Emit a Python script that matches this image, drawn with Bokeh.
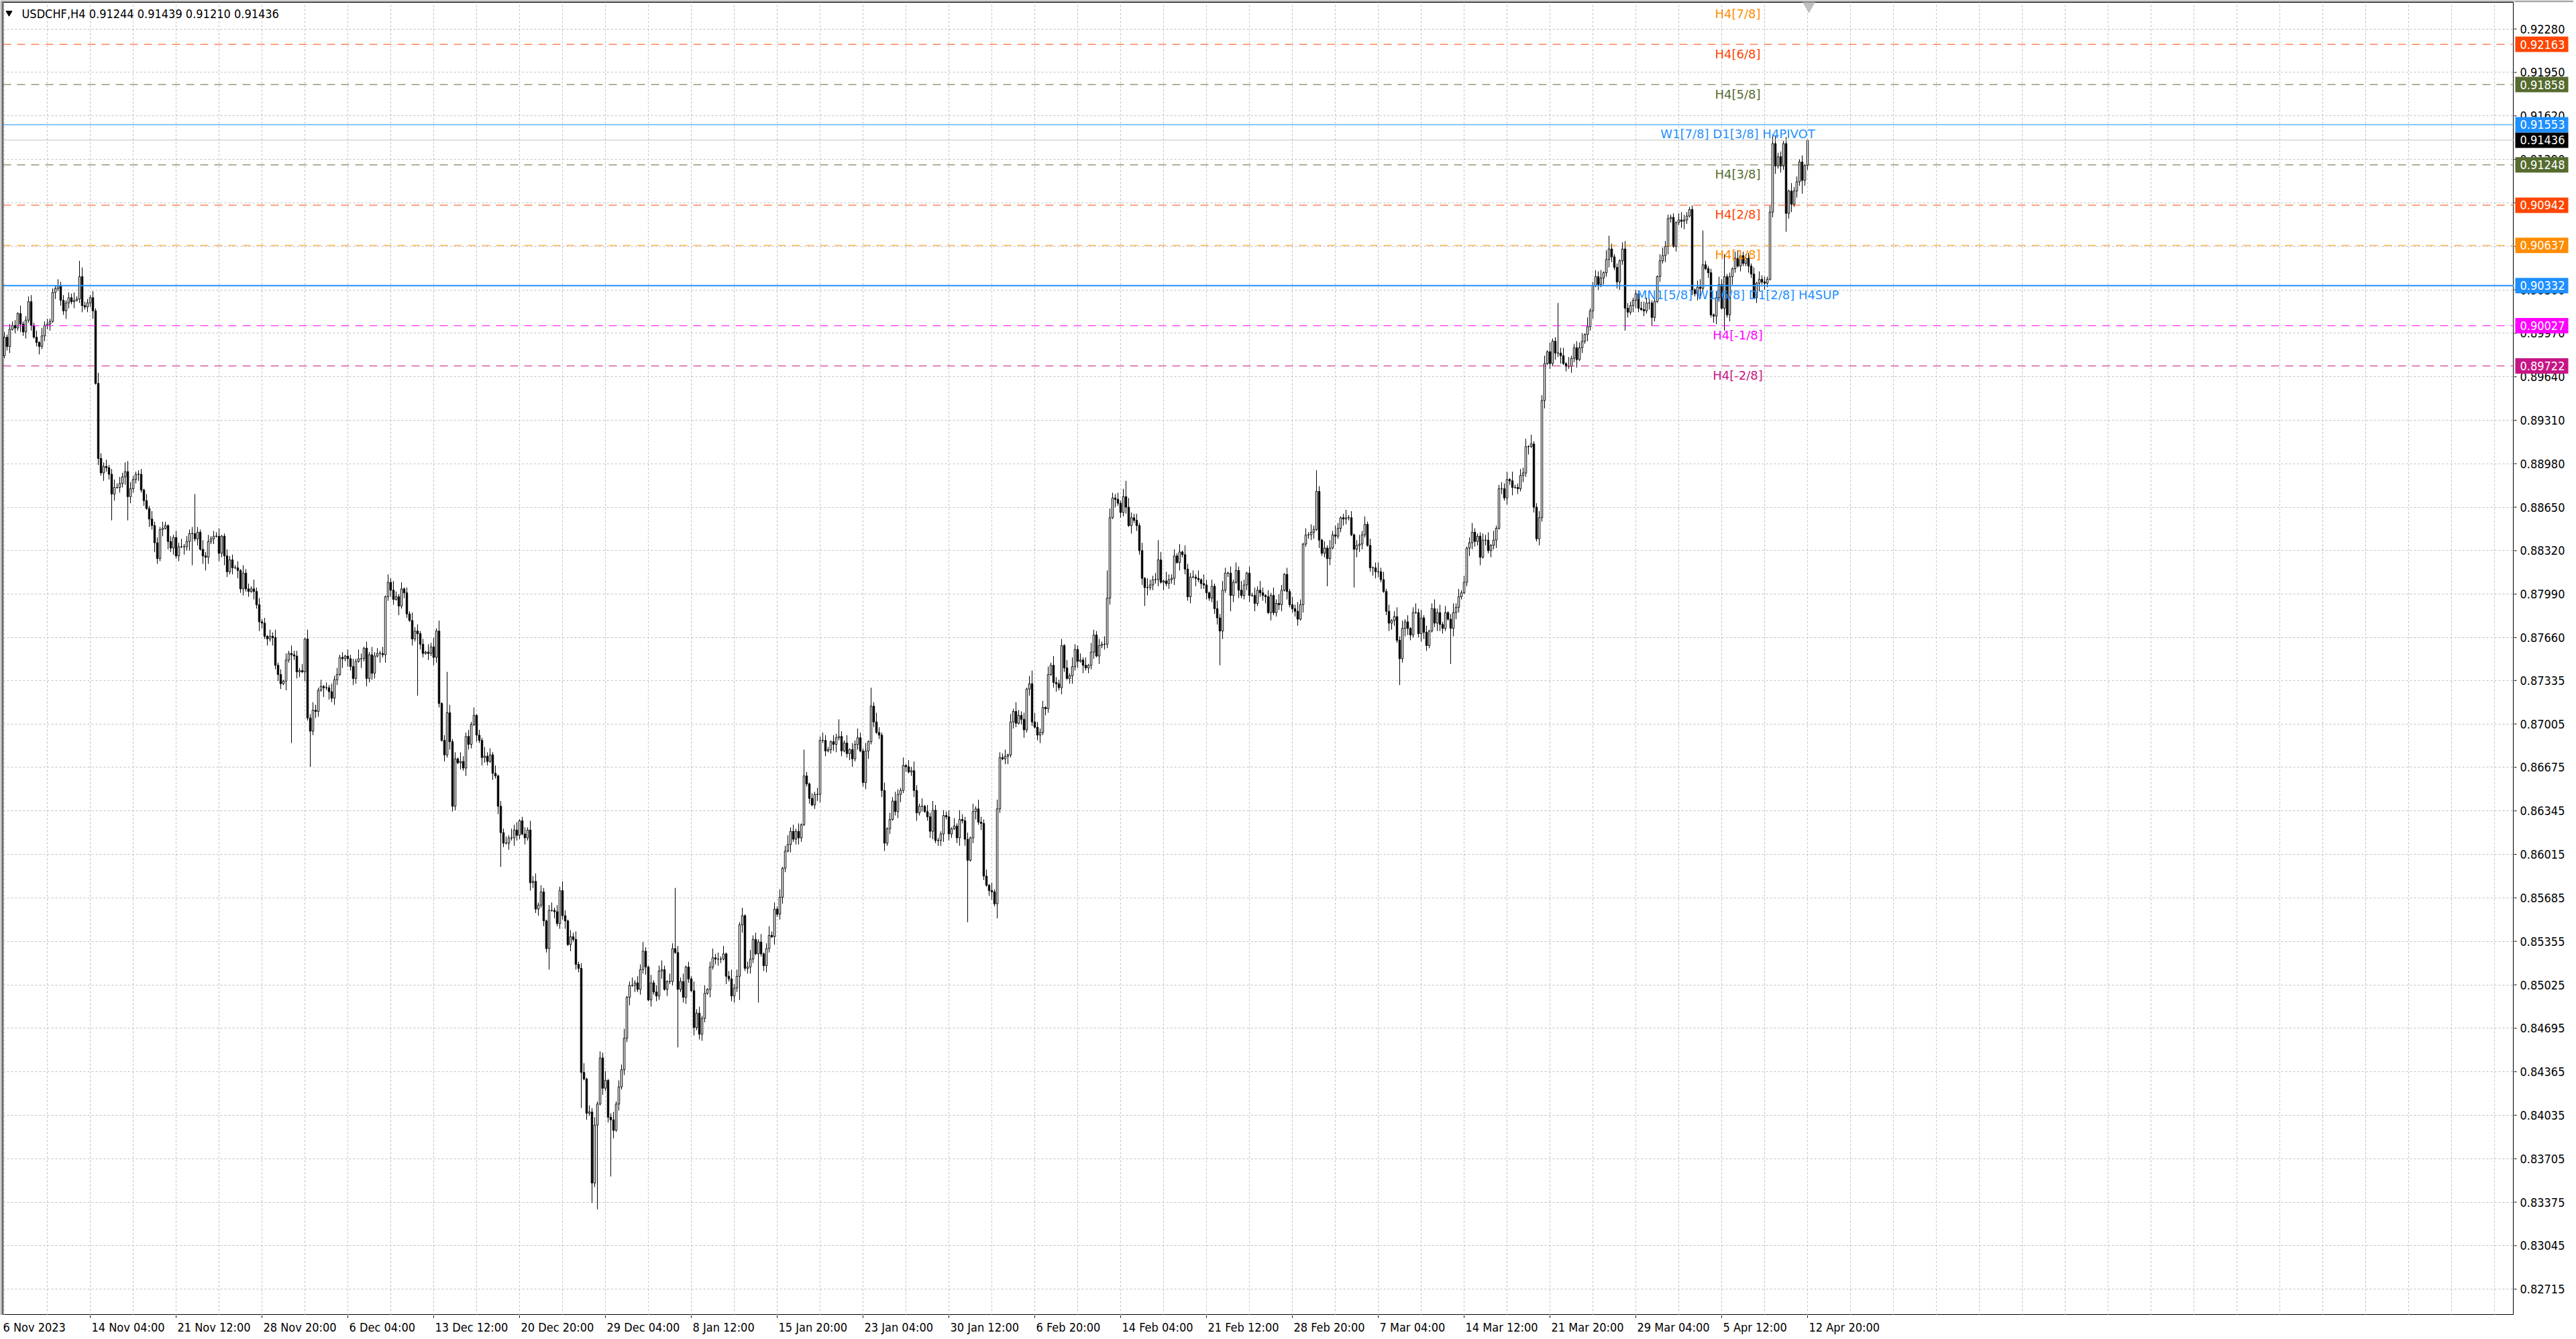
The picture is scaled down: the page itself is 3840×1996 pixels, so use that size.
import numpy as np
from bokeh.plotting import figure
from bokeh.layouts import column, row
from bokeh.models import FixedTicker, Span, Label, ColumnDataSource, Range1d
from bokeh.core.properties import value
from bokeh.embed import file_html
from bokeh.resources import INLINE

# ---------------- data ----------------
FIRST_BAR = 4          # bar index of first close below (bar 0 = 6 Nov 2023 00:00, H4)
FIRST_OPEN = 8978      # pips
CLOSE_PIPS = [
    # 4-40
    8980, 8994, 8987, 9000, 9003, 9001, 9012, 9004, 8998, 9007,
    9021, 9003, 8994, 8990, 8987, 8995, 9003, 9004, 9006, 9028,
    9031, 9033, 9022, 9014, 9020, 9024, 9021, 9022, 9023, 9040,
    9018, 9017, 9020, 9024, 9014, 8959, 8902,
    # 41-87
    8891, 8896, 8895, 8890, 8875, 8880, 8880, 8883, 8888, 8892,
    8873, 8879, 8886, 8890, 8890, 8878, 8870, 8864, 8856, 8851,
    8838, 8826, 8848, 8849, 8851, 8839, 8834, 8842, 8828, 8835,
    8835, 8835, 8839, 8845, 8845, 8841, 8846, 8833, 8828, 8827,
    8839, 8841, 8843, 8843, 8830, 8843, 8828,
    # 88-153
    8816, 8825, 8819, 8819, 8817, 8803, 8815, 8803, 8801, 8803,
    8801, 8791, 8778, 8777, 8767, 8765, 8767, 8766, 8745, 8738,
    8731, 8733, 8749, 8754, 8753, 8752, 8740, 8741, 8740, 8765,
    8705, 8695, 8711, 8710, 8726, 8729, 8728, 8728, 8725, 8720,
    8734, 8738, 8751, 8750, 8752, 8750, 8744, 8735, 8748, 8750,
    8750, 8758, 8735, 8753, 8739, 8752, 8754, 8754, 8753, 8797,
    8808, 8802, 8795, 8797, 8790, 8803,
    # 154-303
    8800, 8784, 8779, 8765, 8771, 8769, 8761, 8754, 8755, 8754,
    8759, 8751, 8771, 8716, 8688, 8677, 8709, 8687, 8638, 8674,
    8671, 8672, 8667, 8691, 8685, 8700, 8707, 8692, 8688, 8675,
    8676, 8672, 8677, 8663, 8661, 8638, 8618, 8610, 8610, 8614,
    8614, 8620, 8616, 8627, 8617, 8614, 8620, 8580, 8581, 8560,
    8563, 8573, 8551, 8530, 8559, 8559, 8558, 8549, 8574, 8555,
    8551, 8533, 8539, 8537, 8518, 8515, 8436, 8431, 8405, 8406,
    8352, 8396, 8412, 8447, 8424, 8430, 8402, 8400, 8392, 8412,
    8425, 8438, 8462, 8493, 8502, 8502, 8504, 8499, 8514, 8528,
    8516, 8491, 8504, 8497, 8494, 8513, 8514, 8499, 8505, 8505,
    8530, 8527, 8499, 8505, 8493, 8516, 8507, 8498, 8470, 8481,
    8465, 8477, 8496, 8499, 8516, 8523, 8522, 8522, 8522, 8526,
    8509, 8507, 8494, 8500, 8509, 8548, 8555, 8515, 8516, 8522,
    8537, 8526, 8535, 8526, 8517, 8530, 8540, 8539, 8560, 8556,
    8569, 8591, 8604, 8609, 8619, 8613, 8619, 8614, 8624, 8661,
    # 304-486
    8655, 8644, 8639, 8647, 8647, 8688, 8688, 8680, 8681, 8687,
    8685, 8690, 8691, 8680, 8686, 8678, 8681, 8674, 8685, 8690,
    8680, 8656, 8680, 8687, 8714, 8702, 8694, 8692, 8650, 8610,
    8621, 8628, 8642, 8634, 8647, 8650, 8669, 8668, 8664, 8665,
    8650, 8633, 8638, 8638, 8634, 8630, 8619, 8635, 8612, 8612,
    8617, 8631, 8630, 8617, 8621, 8623, 8614, 8628, 8627, 8613,
    8597, 8614, 8634, 8636, 8626, 8625, 8585, 8578, 8574, 8573,
    8564, 8636, 8675, 8674, 8676, 8677, 8702, 8710, 8701, 8707,
    8704, 8696, 8727, 8731, 8702, 8698, 8692, 8694, 8713, 8712,
    8738, 8745, 8732, 8731, 8728, 8760, 8743, 8735, 8737, 8744,
    8757, 8748, 8749, 8745, 8743, 8745, 8755, 8768, 8752, 8760,
    8761, 8761, 8796, 8857, 8872, 8871, 8868, 8861, 8873, 8865,
    8851, 8857, 8855, 8851, 8832, 8811, 8804, 8804, 8806, 8810,
    8810, 8825, 8808, 8809, 8807, 8810, 8811, 8828, 8823, 8831,
    8829, 8818, 8797, 8812, 8812, 8811, 8810, 8807, 8806, 8800,
    8796, 8805, 8788, 8781, 8771, 8802, 8815, 8815, 8798, 8808,
    8817, 8802, 8798, 8806, 8815, 8798, 8798, 8792, 8802, 8800,
    8798, 8797, 8785, 8798, 8785, 8792, 8791, 8802, 8814, 8801,
    8791, 8788, 8786,
    # 487-677
    8780, 8791, 8837, 8844, 8844, 8846, 8848, 8877, 8840, 8830,
    8834, 8826, 8834, 8844, 8843, 8849, 8857, 8856, 8857, 8857,
    8844, 8833, 8836, 8837, 8844, 8852, 8836, 8819, 8819, 8816,
    8816, 8810, 8801, 8786, 8777, 8779, 8782, 8764, 8750, 8773,
    8778, 8773, 8768, 8785, 8785, 8769, 8781, 8770, 8760, 8771,
    8788, 8777, 8785, 8776, 8773, 8785, 8780, 8773, 8785, 8789,
    8797, 8800, 8808, 8834, 8838, 8846, 8839, 8843, 8827, 8840,
    8840, 8832, 8836, 8840, 8849, 8879, 8879, 8872, 8886, 8885,
    8880, 8880, 8879, 8889, 8891, 8911, 8911, 8913, 8865, 8841,
    8857, 8946, 8974, 8983, 8974, 8991, 8982, 8982, 8980, 8974,
    8972, 8972, 8978, 8986, 8977, 8986, 8991, 8996, 9002, 9014,
    9033, 9040, 9034, 9039, 9043, 9053, 9061, 9055, 9047, 9036,
    9052, 9061, 9016, 9013, 9018, 9022, 9027, 9016, 9015, 9014,
    9020, 9020, 9009, 9021, 9040, 9052, 9056, 9063, 9084, 9085,
    9063, 9081, 9083, 9082, 9083, 9086, 9091, 9030, 9027, 9032,
    9031, 9049, 9046, 9043, 9011, 9010, 9024, 9034, 9016, 9040,
    9011, 9040, 9046, 9054, 9048, 9056, 9050, 9054, 9048, 9042,
    9024, 9035, 9038, 9036, 9035, 9038, 9089, 9141, 9124, 9131,
    9124, 9141, 9088, 9105, 9095, 9105, 9112, 9127, 9113, 9124.4,
    9143.6,
]
# wick lengths in pips (one character per bar)
UP_WICK = (
    "34243416234525163423253424362473325284352463537453"
    "23415263425314253624351427352436125342516342735241"
    "53624152634251736425142635241536274152634251637425"
    "14263524163725143625174352614273526143527461352746"
    "25314625374153624715362547136254713625473162547316"
    "42536142735261473526147352614735261473526147352614"
    "31425364215374261537426153742615374261537426153742"
    "24351627435162743516274351627435162743516274351627"
    "43526174352617435261743526174352617435261743526174"
    "15263741526374152637415263741526374152637415263741"
    "36251473625147362514736251473625147362514736251473"
    "23546172354617235461723546172354617235461723546172"
    "42315643231564323156432315643231564323156432315643"
    "34251634251634251634251634251634251634251634251634"
)
DN_WICK = (
    "42351426352413624351524364251352436152634251436253"
    "35241637425163524163742516352416374251635241637425"
    "26354172635417263541726354172635417263541726354172"
    "43152643152643152643152643152643152643152643152643"
    "52436152436152436152436152436152436152436152436152"
    "31624531624531624531624531624531624531624531624531"
    "24135624135624135624135624135624135624135624135624"
    "46253146253146253146253146253146253146253146253146"
    "35162435162435162435162435162435162435162435162435"
    "23451623451623451623451623451623451623451623451623"
    "54213654213654213654213654213654213654213654213654"
    "36142536142536142536142536142536142536142536142536"
    "42563142563142563142563142563142563142563142563142"
    "25314625314625314625314625314625314625314625314625"
)
UP_BIG = {33: 12, 51: 8, 76: 30, 167: 8, 170: 31, 255: 46, 303: 20, 316: 13,
          328: 14, 388: 10, 416: 21, 423: 12, 435: 15, 494: 16, 584: 38,
          603: 10, 638: 26, 646: 17, 664: 7}
DN_BIG = {45: 20, 51: 18, 75: 24, 80: 10, 112: 67, 119: 27, 159: 47, 190: 26,
          208: 16, 220: 27, 224: 15, 226: 64, 231: 43, 256: 44, 279: 18,
          286: 37, 364: 47, 375: 11, 430: 14, 458: 26, 462: 12, 498: 21,
          508: 29, 525: 20, 544: 27, 609: 17, 646: 17, 669: 14, 675: 10}
LAST_OHLC = (0.91244, 0.91439, 0.91210, 0.91436)

Y_TICKS = [0.92280, 0.91950, 0.91620, 0.91290, 0.90960, 0.90630, 0.90300, 0.89970,
           0.89640, 0.89310, 0.88980, 0.88650, 0.88320, 0.87990, 0.87660, 0.87335,
           0.87005, 0.86675, 0.86345, 0.86015, 0.85685, 0.85355, 0.85025, 0.84695,
           0.84365, 0.84035, 0.83705, 0.83375, 0.83045, 0.82715]
X_TICK_FIRST = 37       # bar index of "14 Nov 04:00"
X_TICK_STEP = 32
X_LABELS = ["14 Nov 04:00", "21 Nov 12:00", "28 Nov 20:00", "6 Dec 04:00", "13 Dec 12:00",
            "20 Dec 20:00", "29 Dec 04:00", "8 Jan 12:00", "15 Jan 20:00", "23 Jan 04:00",
            "30 Jan 12:00", "6 Feb 20:00", "14 Feb 04:00", "21 Feb 12:00", "28 Feb 20:00",
            "7 Mar 04:00", "14 Mar 12:00", "21 Mar 20:00", "29 Mar 04:00", "5 Apr 12:00",
            "12 Apr 20:00"]
FIRST_LABEL = "6 Nov 2023"
TITLE = "USDCHF,H4  0.91244 0.91439 0.91210 0.91436"

LEVEL_PRICES = [0.92468, 0.92163, 0.91858, 0.91553, 0.91248, 0.90942, 0.90637, 0.90332, 0.90027, 0.89722]
LEVEL_NAMES = ["H4[7/8]", "H4[6/8]", "H4[5/8]", "W1[7/8] D1[3/8] H4PIVOT", "H4[3/8]", "H4[2/8]",
               "H4[1/8]", "MN1[5/8] W1[6/8] D1[2/8] H4SUP", "H4[-1/8]", "H4[-2/8]"]
LEVEL_COLORS = ["#FF8C00", "#FF4500", "#556B2F", "#1E90FF", "#556B2F", "#FF4500",
                "#FF8C00", "#1E90FF", "#FF00FF", "#C71585"]
# "none": the line sits on the top border of the chart and is not visible
LEVEL_STYLE = ["none", "dash", "dash", "solid1", "dash", "dash", "dash", "solid2", "dash", "dash"]
BID_PRICE = 0.91436
TAG_PRICES = [0.91436, 0.92163, 0.91858, 0.91553, 0.91248, 0.90942, 0.90637, 0.90332, 0.90027, 0.89722]
TAG_COLORS = ["#000000", "#FF4500", "#556B2F", "#1E90FF", "#556B2F", "#FF4500",
              "#FF8C00", "#1E90FF", "#FF00FF", "#C71585"]

# ---------------- geometry (page px: x = 4*bar - 14) ----------------
PX_PER_UNIT = 19640.0
X0, X1 = 4.5, 940.25
Y0, Y1 = 0.825174, 0.924818
BORDER_L, BORDER_T = 4, 3
MAIN_W, MAIN_H = 3747, 1960
SIDE_W, BOT_H = 89, 32
AX_FONT = "DejaVu Sans Condensed"
EDGE = "#a8a8a8"

n = len(CLOSE_PIPS)
idx = np.arange(FIRST_BAR, FIRST_BAR + n)
close = np.array(CLOSE_PIPS, dtype=float) / 10000.0
opn = np.concatenate([[FIRST_OPEN / 10000.0], close[:-1]])
upw = UP_WICK.ljust(n, "2")[:n]
dnw = DN_WICK.ljust(n, "2")[:n]
up = np.array([int(c, 36) for c in upw], dtype=float)
dn = np.array([int(c, 36) for c in dnw], dtype=float)
for k, v in UP_BIG.items():
    if FIRST_BAR <= k < FIRST_BAR + n:
        up[k - FIRST_BAR] = v
for k, v in DN_BIG.items():
    if FIRST_BAR <= k < FIRST_BAR + n:
        dn[k - FIRST_BAR] = v
top = np.maximum(opn, close)
bot = np.minimum(opn, close)
high = top + up / 10000.0
low = bot - dn / 10000.0
opn[-1], high[-1], low[-1], close[-1] = LAST_OHLC
top[-1], bot[-1] = max(opn[-1], close[-1]), min(opn[-1], close[-1])
bull = close >= opn
src = ColumnDataSource(dict(x=idx, high=high, low=low, top=top, bot=bot,
                            fill=np.where(bull, "white", "black").tolist()))

xr = Range1d(X0, X1)
yr = Range1d(Y0, Y1)

# ---------------- main chart ----------------
p = figure(width=MAIN_W, height=MAIN_H, x_range=xr, y_range=yr, output_backend="svg",
           toolbar_location=None, x_axis_location=None, y_axis_location=None, title=None,
           min_border_left=BORDER_L, min_border_top=BORDER_T, min_border_right=0,
           min_border_bottom=0)
p.background_fill_color = "white"
p.border_fill_color = EDGE
p.outline_line_color = "black"
p.outline_line_width = 1
p.xgrid.ticker = FixedTicker(ticks=list(range(5, 941, 16)))
p.ygrid.ticker = FixedTicker(ticks=Y_TICKS)
for g in (p.xgrid, p.ygrid):
    g.grid_line_color = "#c0c0c0"
    g.grid_line_dash = "3 3"
    g.grid_line_width = 1

p.segment(x0="x", y0="low", x1="x", y1="high", source=src, line_color="black", line_width=1)
p.vbar(x="x", width=0.62, top="top", bottom="bot", source=src, fill_color="fill",
       line_color="black", line_width=1)

for pr, col, st in zip(LEVEL_PRICES, LEVEL_COLORS, LEVEL_STYLE):
    if st == "dash":
        p.add_layout(Span(location=pr, dimension="width", line_color=col, line_width=1, line_dash="12 9"))
    elif st == "solid1":
        p.add_layout(Span(location=pr, dimension="width", line_color=col, line_width=1))
    elif st == "solid2":
        p.add_layout(Span(location=pr, dimension="width", line_color=col, line_width=2))
p.add_layout(Span(location=BID_PRICE, dimension="width", line_color="#c0c0c0", line_width=1))

LBL_X = 651.0
LBL_TOP_MAX = 0.90332 + (425.2 - 6.5) / PX_PER_UNIT
for pr, name, col in zip(LEVEL_PRICES, LEVEL_NAMES, LEVEL_COLORS):
    y = min(pr - 3.5 / PX_PER_UNIT, LBL_TOP_MAX)
    p.add_layout(Label(x=LBL_X, y=y, text=name, text_color=col, text_font="DejaVu Sans",
                       text_font_size="18px", text_align="center", text_baseline="top"))

TITLE_Y = 0.90332 + (425.2 - 19.5) / PX_PER_UNIT
p.add_layout(Label(x=11.5, y=TITLE_Y, text=TITLE, text_font=AX_FONT, text_font_size="18px",
                   text_color="black", text_align="left", text_baseline="middle"))
p.scatter(x=[6.75], y=[0.90332 + (425.2 - 18.5) / PX_PER_UNIT], marker="inverted_triangle",
          size=9, fill_color="black", line_color="black")
p.scatter(x=[677.5], y=[0.90332 + (425.2 - 8.0) / PX_PER_UNIT], marker="inverted_triangle",
          size=18, fill_color="#c0c0c0", line_color="#c0c0c0")

# ---------------- price scale (right) ----------------
r = figure(width=SIDE_W, height=MAIN_H, x_range=Range1d(0, SIDE_W), y_range=yr,
           output_backend="svg", toolbar_location=None, x_axis_location=None,
           y_axis_location=None, title=None, min_border_left=0, min_border_right=0,
           min_border_top=BORDER_T, min_border_bottom=0)
r.grid.visible = False
r.outline_line_color = None
r.background_fill_color = "white"
r.border_fill_color = EDGE
r.segment(x0=[0] * len(Y_TICKS), x1=[4] * len(Y_TICKS), y0=Y_TICKS, y1=Y_TICKS,
          line_color="black", line_width=1)
r.text(x=[9] * len(Y_TICKS), y=Y_TICKS, text=[f"{t:.5f}" for t in Y_TICKS],
       text_font=value(AX_FONT), text_font_size="18px", text_color="black",
       text_align="left", text_baseline="middle")
half = 11.5 / PX_PER_UNIT
r.quad(left=[2] * len(TAG_PRICES), right=[81] * len(TAG_PRICES),
       top=[t + half for t in TAG_PRICES], bottom=[t - half for t in TAG_PRICES],
       fill_color=TAG_COLORS, line_color=None)
r.text(x=[9] * len(TAG_PRICES), y=TAG_PRICES, text=[f"{t:.5f}" for t in TAG_PRICES],
       text_font=value(AX_FONT), text_font_size="18px", text_color="white",
       text_align="left", text_baseline="middle")

# ---------------- time scale (bottom) ----------------
xt = [X_TICK_FIRST + X_TICK_STEP * m for m in range(len(X_LABELS))]
BW = MAIN_W + SIDE_W
b = figure(width=BW, height=BOT_H, x_range=Range1d(3.5, 3.5 + BW / 4.0),
           y_range=Range1d(-BOT_H, 0), output_backend="svg", toolbar_location=None,
           x_axis_location=None, y_axis_location=None, title=None, min_border=0)
b.grid.visible = False
b.outline_line_color = None
b.background_fill_color = "white"
b.border_fill_color = "white"
b.segment(x0=xt, x1=xt, y0=[0] * len(xt), y1=[-4] * len(xt), line_color="black", line_width=1)
b.text(x=[X0] + [t + 0.5 for t in xt], y=[-18] * (len(xt) + 1), text=[FIRST_LABEL] + X_LABELS,
       text_font=value(AX_FONT), text_font_size="18px", text_color="black",
       text_align="left", text_baseline="middle")

layout = column(row(p, r, spacing=0), b, spacing=0)
open("out.html", "w").write(file_html(layout, INLINE))
